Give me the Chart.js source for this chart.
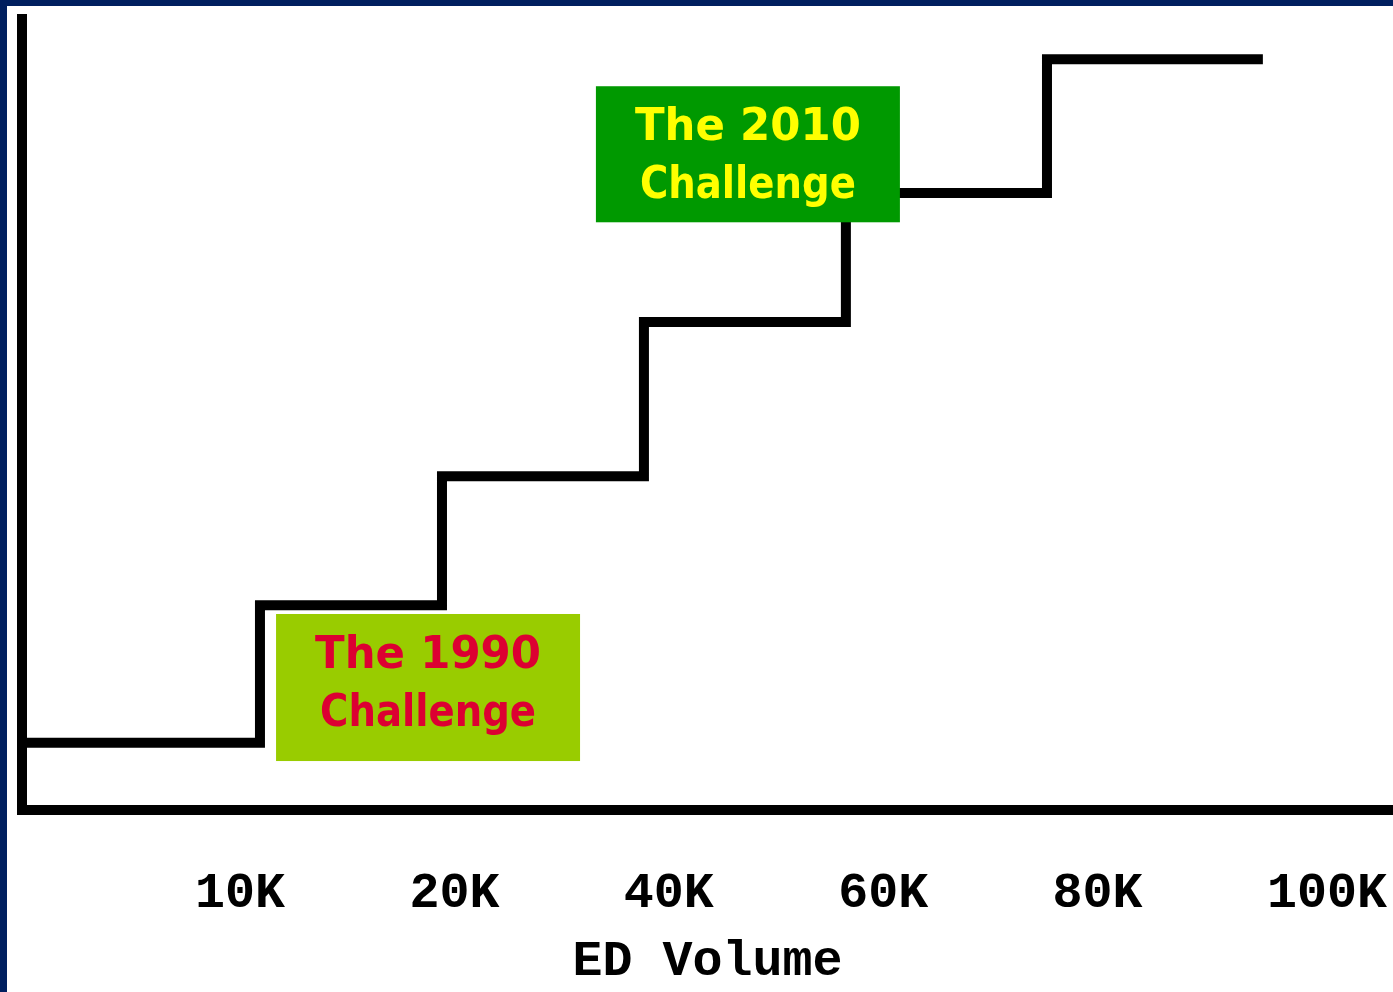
<!DOCTYPE html>
<html>
<head>
<meta charset="utf-8">
<title>ED Volume</title>
<script src="https://cdn.jsdelivr.net/npm/chart.js@4.4.1/dist/chart.umd.min.js"></script>
<style>
  html, body { margin: 0; padding: 0; background: #ffffff; overflow: hidden; }
  #wrap { position: relative; width: 1393px; height: 992px; }
  #chart { position: absolute; left: 0; top: 0; }
  .frame { position: absolute; background: #001f5f; }
  #frameTop { left: 0; top: 0; width: 1393px; height: 6px; }
  #frameLeft { left: 0; top: 0; width: 7px; height: 992px; }
</style>
</head>
<body>
<div id="wrap">
  <canvas id="chart" width="1393" height="992"></canvas>
  <div class="frame" id="frameTop"></div>
  <div class="frame" id="frameLeft"></div>
</div>
<script>
// Axis tick labels and where they sit along the volume axis
const tickLabels = ['10K', '20K', '40K', '60K', '80K', '100K'];
const tickPositions = [1, 2, 3, 4, 5, 6];

// Staircase: volume position where each step begins, and the level it reaches
const stepX = [0.193, 1.303, 2.152, 3.094, 4.036, 4.974, 5.981];
const stepLevel = [8.5, 25.9, 42.2, 61.7, 78.0, 94.9, 94.9];

// Callout texts
const challengeTitles = [['The 1990', 'Challenge'], ['The 2010', 'Challenge']];

const xMin = 0.193, xMax = 6.588;

// Callout boxes, placed in axis units
const callouts = [
  { lines: challengeTitles[0], x0: 1.378, x1: 2.796, yTop: 24.78, yBot: 6.19, fill: '#99cc00', color: '#dc0032' },
  { lines: challengeTitles[1], x0: 2.870, x1: 4.288, yTop: 91.5, yBot: 74.3, fill: '#009900', color: '#ffff00' }
];

const calloutPlugin = {
  id: 'callouts',
  afterDatasetsDraw(chart) {
    const { ctx, scales: { x, y } } = chart;
    ctx.save();
    callouts.forEach(c => {
      const left = x.getPixelForValue(c.x0);
      const right = x.getPixelForValue(c.x1);
      const top = y.getPixelForValue(c.yTop);
      const bottom = y.getPixelForValue(c.yBot);
      ctx.fillStyle = c.fill;
      ctx.fillRect(left, top, right - left, bottom - top);
      ctx.fillStyle = c.color;
      ctx.font = 'bold 45px "Comic Sans MS", "DejaVu Sans", sans-serif';
      ctx.textAlign = 'center';
      ctx.textBaseline = 'alphabetic';
      const cx = (left + right) / 2;
      ctx.fillText(c.lines[0], cx, top + 54, 226);
      ctx.fillText(c.lines[1], cx, top + 112, 216);
    });
    ctx.restore();
  }
};

const monoFont = { family: '"Liberation Mono", "Courier New", monospace', size: 50, weight: 'bold' };

new Chart(document.getElementById('chart'), {
  type: 'line',
  data: {
    datasets: [{
      data: stepX.map((v, i) => ({ x: v, y: stepLevel[i] })),
      borderColor: '#000000',
      borderWidth: 10,
      stepped: 'before',
      pointRadius: 0,
      borderCapStyle: 'butt',
      borderJoinStyle: 'miter',
      fill: false
    }]
  },
  options: {
    responsive: false,
    animation: false,
    devicePixelRatio: 1,
    layout: { padding: { top: 19, left: 0, right: 0, bottom: 0 } },
    plugins: { legend: { display: false }, tooltip: { enabled: false } },
    scales: {
      x: {
        type: 'linear',
        min: xMin,
        max: xMax,
        afterBuildTicks(scale) {
          scale.ticks = tickPositions.map(v => ({ value: v }));
        },
        afterFit(scale) {
          scale.height = 182;
          scale.paddingLeft = 0;
          scale.paddingRight = 0;
        },
        grid: { display: false, drawTicks: false },
        border: { display: true, color: '#000000', width: 10 },
        ticks: {
          align: 'start',
          padding: 54,
          color: '#000000',
          font: monoFont,
          maxRotation: 0,
          autoSkip: false,
          callback(value) {
            const i = tickPositions.indexOf(value);
            return i >= 0 ? tickLabels[i] : '';
          }
        },
        title: {
          display: true,
          text: 'ED Volume',
          color: '#000000',
          font: monoFont,
          padding: { top: 0, bottom: 0 }
        }
      },
      y: {
        type: 'linear',
        min: 0,
        max: 100,
        afterFit(scale) {
          scale.width = 22;
        },
        grid: { display: false, drawTicks: false },
        border: { display: true, color: '#000000', width: 10 },
        ticks: { display: false }
      }
    }
  },
  plugins: [calloutPlugin]
});
</script>
</body>
</html>
